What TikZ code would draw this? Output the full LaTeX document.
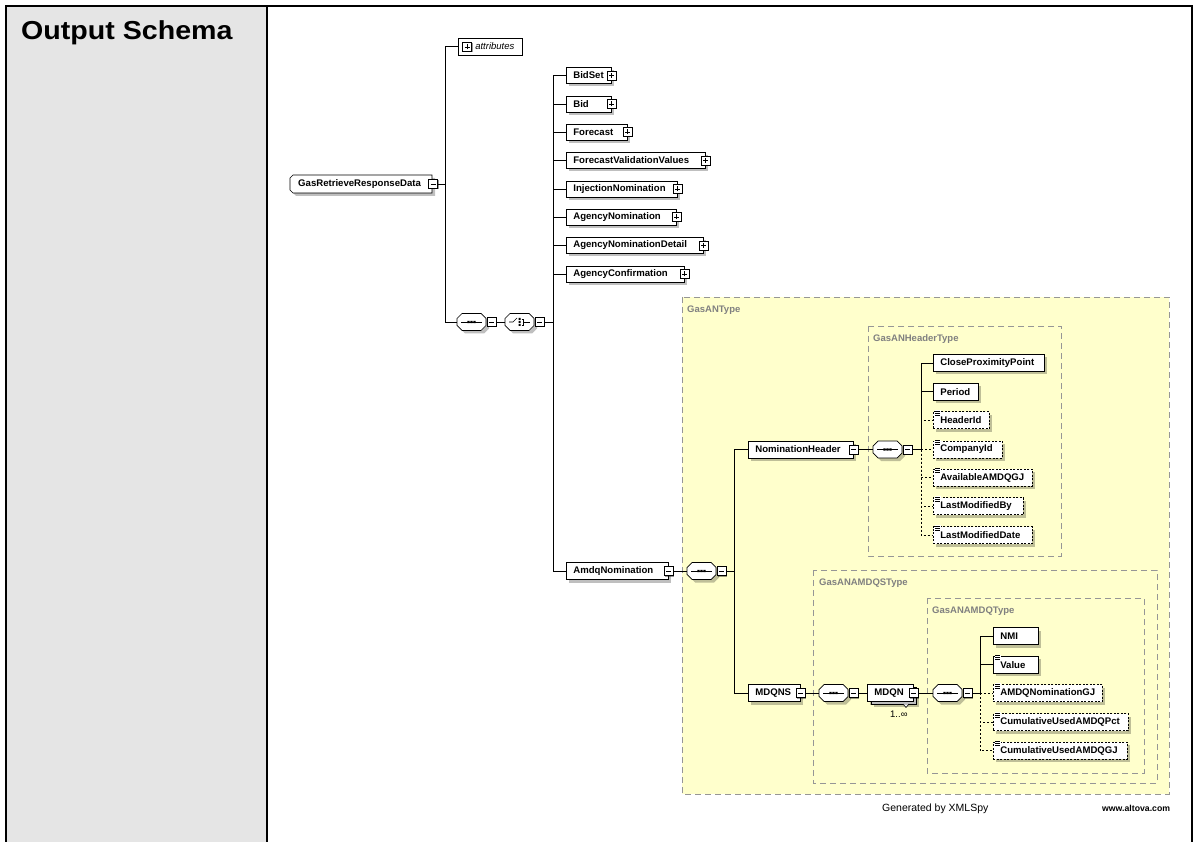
\documentclass[tikz,border=0pt]{standalone}
\usepackage{fontspec}
\setmainfont{Liberation Sans}
\usetikzlibrary{calc,shadows}
\pgfdeclarelayer{bg}
\pgfsetlayers{bg,main}
\definecolor{colgray}{RGB}{229,229,229}
\definecolor{yel}{RGB}{255,255,204}
\definecolor{dgray}{RGB}{150,150,150}
\definecolor{lblgray}{RGB}{128,128,128}

\tikzset{
  shd/.style={drop shadow={shadow xshift=3pt,shadow yshift=-3pt,fill=black,opacity=0.25}},
  elem/.style={draw,fill=white,line width=0.7pt,minimum height=16pt,inner xsep=7pt,inner ysep=0pt,anchor=west,font=\bfseries\fontsize{9.6}{11}\selectfont,shd},
  opt/.style={dash pattern=on 2pt off 1.5pt},
  pmbox/.style={draw,fill=white,line width=0.7pt,minimum size=9pt,inner sep=0pt,drop shadow={shadow xshift=1pt,shadow yshift=-1pt,fill=black,opacity=0.4}},
  plussym/.style={pmbox,path picture={\draw[line width=0.6pt] ([xshift=-2.5pt]path picture bounding box.center) -- ([xshift=2.5pt]path picture bounding box.center) ([yshift=-2.5pt]path picture bounding box.center) -- ([yshift=2.5pt]path picture bounding box.center);}},
  minussym/.style={pmbox,path picture={\draw[line width=0.6pt] ([xshift=-2.5pt]path picture bounding box.center) -- ([xshift=2.5pt]path picture bounding box.center);}},
  compnode/.style={minimum width=29pt,minimum height=17pt,inner sep=0pt,anchor=west},
  conn/.style={line width=0.8pt},
  optconn/.style={conn,dash pattern=on 2pt off 2pt},
  typebox/.style={fill=yel,draw=dgray,line width=0.8pt,dash pattern=on 6pt off 4pt},
  typelabel/.style={anchor=base west,text=lblgray,font=\bfseries\fontsize{9.5}{11}\selectfont,inner sep=0pt},
  plain text/.style={anchor=base west,inner sep=0pt},
}

\newcommand\xel[6]{%
  \pgfmathsetmacro\xelw{#3-#2-14}%
  \node[elem,#6] (#1) at (#2,#4) {\makebox[\xelw pt][l]{#5}};}
\newcommand\xplus[1]{\node[plussym] (#1-pm) at (#1.east) {};}
\newcommand\xminus[1]{\node[minussym] (#1-pm) at (#1.east) {};}
\newcommand\xeq[1]{%
  \fill[white] ($(#1.north west)+(1.5,-1)$) rectangle ++(6.5,6);
  \draw[line width=0.5pt] ($(#1.north west)+(2,-0.3)$) -- ++(5,0)
     ($(#1.north west)+(2,1.7)$) -- ++(5,0) ($(#1.north west)+(2,3.7)$) -- ++(5,0);}
\newcommand\xsymseq{%
  \draw[line width=0.7pt] (4,0) -- (25,0);
  \fill (10.4,-1.2) rectangle (12.6,1.2) (13.4,-1.2) rectangle (15.6,1.2) (16.4,-1.2) rectangle (18.6,1.2);}
\newcommand\xsymchoice{%
  \draw[line width=0.7pt] (4,0) -- (8,0) -- (12,-4);
  \fill (13.5,-4) rectangle (15.5,-2) (13.5,-1) rectangle (15.5,1) (13.5,2) rectangle (15.5,4);
  \draw[line width=0.7pt] (16.5,-3) -- (18.5,-3) -- (18.5,3) -- (16.5,3) (18.5,0) -- (25,0);}
\newcommand\xcomp[4]{%
  \node[compnode] (#1) at (#2,#3) {};
  \begin{scope}[shift={(#1.west)}]
    \fill[black,opacity=.25,shift={(3,3)}] (5,-8.5) -- (24,-8.5) -- (29,-3.5) -- (29,3.5) -- (24,8.5) -- (5,8.5) -- (0,3.5) -- (0,-3.5) -- cycle;
    \draw[fill=white,line width=0.7pt] (5,-8.5) -- (24,-8.5) -- (29,-3.5) -- (29,3.5) -- (24,8.5) -- (5,8.5) -- (0,3.5) -- (0,-3.5) -- cycle;
    \csname xsym#4\endcsname
  \end{scope}
  \node[minussym] (#1-pm) at ($(#1.west)+(34.5,0)$) {};}

\begin{document}
\begin{tikzpicture}[x=1pt,y=-1pt]
\useasboundingbox (0,0) rectangle (1195,842);

% title
\node[plain text,font=\bfseries\fontsize{26}{30}\selectfont] (title) at (21,40) {\scalebox{1.1}[1]{Output Schema}};

% buses
\coordinate (bus0) at (445,184);
\coordinate (bus1) at (553,322);
\coordinate (bus2) at (734,571);
\coordinate (bus3) at (921,449.5);
\coordinate (bus4) at (980,693);

% root element
\node[anchor=west,inner xsep=8pt,inner ysep=0pt,minimum height=18pt,font=\bfseries\fontsize{9.6}{11}\selectfont] (grrd) at (290,184) {\makebox[126pt][l]{GasRetrieveResponseData}};
\node[minussym] (grrd-pm) at (433,184) {};

% attributes
\node[draw,line width=0.6pt,anchor=west,minimum height=17pt,inner sep=0pt,font=\itshape\fontsize{9.5}{11}\selectfont] (attr) at (458,46.5) {\makebox[64pt][l]{\hspace{17pt}attributes}};
\node[plussym] (attr-pm) at (467,47) {};

% compositors
\xcomp{seq1}{457}{322}{seq}
\xcomp{choice}{505}{322}{choice}

% top-level children
\xel{bidset}{566}{611}{75.5}{BidSet}{}\xplus{bidset}
\xel{bid}{566}{611}{104}{Bid}{}\xplus{bid}
\xel{forecast}{566}{627}{132}{Forecast}{}\xplus{forecast}
\xel{fvv}{566}{705}{160.5}{ForecastValidationValues}{}\xplus{fvv}
\xel{injnom}{566}{677}{189}{InjectionNomination}{}\xplus{injnom}
\xel{agnom}{566}{676}{217}{AgencyNomination}{}\xplus{agnom}
\xel{agnomdet}{566}{703}{245.5}{AgencyNominationDetail}{}\xplus{agnomdet}
\xel{agconf}{566}{684}{274}{AgencyConfirmation}{}\xplus{agconf}

% AmdqNomination
\xel{amdq}{566}{668}{571}{AmdqNomination}{minimum height=17pt}\xminus{amdq}
\xcomp{seqA}{687}{571}{seq}

% NominationHeader
\xel{nomhdr}{748}{853}{449.5}{NominationHeader}{minimum height=17pt}\xminus{nomhdr}
\xcomp{seqH}{873}{449.5}{seq}
\xel{cpp}{933}{1044}{363}{CloseProximityPoint}{minimum height=17pt}
\xel{period}{933}{978}{391.7}{Period}{minimum height=17pt}
\xel{hid}{933}{989}{420.3}{HeaderId}{minimum height=17pt,opt}\xeq{hid}
\xel{cid}{933}{1002}{449.5}{CompanyId}{minimum height=17pt,opt}\xeq{cid}
\xel{avail}{933}{1032}{477.7}{AvailableAMDQGJ}{minimum height=17pt,opt}\xeq{avail}
\xel{lmby}{933}{1023}{506.3}{LastModifiedBy}{minimum height=17pt,opt}\xeq{lmby}
\xel{lmdate}{933}{1032}{535}{LastModifiedDate}{minimum height=17pt,opt}\xeq{lmdate}

% MDQNS
\xel{mdqns}{748}{800}{693}{MDQNS}{minimum height=17pt}\xminus{mdqns}
\xcomp{seqM}{819}{693}{seq}
\fill[black,opacity=.25] (874,690) rectangle (919,707);
\draw[fill=white,line width=0.7pt] (871,687) rectangle (916,704);
\draw[fill=white,line width=0.6pt] (903,704) -- (906,707.5) -- (909,704);
\xel{mdqn}{867}{913}{693}{MDQN}{minimum height=17pt}\xminus{mdqn}
\node[plain text,font=\fontsize{9.5}{11}\selectfont] (mult) at (890,717) {1..∞};
\xcomp{seqQ}{933}{693}{seq}
\xel{nmi}{993}{1038}{636}{NMI}{minimum height=17pt}
\xel{value}{993}{1038}{664.7}{Value}{minimum height=17pt}\xeq{value}
\xel{amdqgj}{993}{1102}{693}{AMDQNominationGJ}{minimum height=17pt,opt}\xeq{amdqgj}
\xel{cumpct}{993}{1128}{722}{CumulativeUsedAMDQPct}{minimum height=17pt,opt}\xeq{cumpct}
\xel{cumgj}{993}{1127}{750.7}{CumulativeUsedAMDQGJ}{minimum height=17pt,opt}\xeq{cumgj}

% type labels
\node[typelabel] (lblAN) at (687,313) {GasANType};
\node[typelabel] (lblHdr) at (873,341.5) {GasANHeaderType};
\node[typelabel] (lblMS) at (819,585) {GasANAMDQSType};
\node[typelabel] (lblM) at (932,613.5) {GasANAMDQType};

% footer
\node[plain text,font=\fontsize{10.5}{12}\selectfont] (gen) at (882,811) {Generated by XMLSpy};
\node[plain text,font=\bfseries\fontsize{8.7}{10}\selectfont] (alt) at (1102,811) {www.altova.com};

\begin{pgfonlayer}{bg}
  \fill[colgray] (6.5,6.5) rectangle (267,842);
  \draw[line width=2pt] (6,842) -- (6,6.5) -- (1192,6.5) -- (1192,842);
  \draw[line width=2pt] (267,6.5) -- (267,842);
  \path[typebox] (682,297) rectangle (1169,794);
  \path[typebox] (868,326) rectangle (1061,556);
  \path[typebox] (813,570) rectangle (1157,783);
  \path[typebox] (927,598) rectangle (1144,773);
  % connectors
  \draw[conn] (grrd-pm.east) -- (bus0);
  \draw[conn] (bus0) |- (attr.west);
  \draw[conn] (bus0) |- (seq1.west);
  \draw[conn] (seq1-pm.east) -- (choice.west);
  \draw[conn] (choice-pm.east) -- (bus1);
  \foreach \n in {bidset,bid,forecast,fvv,injnom,agnom,agnomdet,agconf,amdq}
    \draw[conn] (bus1) |- (\n.west);
  \draw[conn] (amdq-pm.east) -- (seqA.west);
  \draw[conn] (seqA-pm.east) -- (bus2);
  \draw[conn] (bus2) |- (nomhdr.west);
  \draw[conn] (bus2) |- (mdqns.west);
  \draw[conn] (nomhdr-pm.east) -- (seqH.west);
  \draw[conn] (seqH-pm.east) -- (bus3);
  \foreach \n in {hid,cid,avail,lmby,lmdate}
    \draw[optconn] (bus3) |- (\n.west);
  \foreach \n in {cpp,period}
    \draw[conn] (bus3) |- (\n.west);
  \draw[conn] (mdqns-pm.east) -- (seqM.west);
  \draw[conn] (seqM-pm.east) -- (mdqn.west);
  \draw[conn] (mdqn-pm.east) -- (seqQ.west);
  \draw[conn] (seqQ-pm.east) -- (bus4);
  \foreach \n in {amdqgj,cumpct,cumgj}
    \draw[optconn] (bus4) |- (\n.west);
  \foreach \n in {nmi,value}
    \draw[conn] (bus4) |- (\n.west);
  % root element shape (chamfered left side)
  \begin{scope}[shift={(grrd.west)}]
    \fill[black,opacity=.25,shift={(3,3)}] (3,-9) -- (142,-9) -- (142,9) -- (3,9) -- (0,6) -- (0,-6) -- cycle;
    \draw[fill=white,line width=0.7pt] (3,-9) -- (142,-9) -- (142,9) -- (3,9) -- (0,6) -- (0,-6) -- cycle;
  \end{scope}
\end{pgfonlayer}
\end{tikzpicture}
\end{document}
